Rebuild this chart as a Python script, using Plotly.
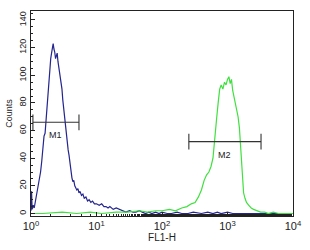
import math
import plotly.graph_objects as go

# Blue histogram (FL1-H value, count)
blue_x = [1.00, 1.02, 1.04, 1.08, 1.12, 1.17, 1.22, 1.28, 1.34, 1.40, 1.46, 1.52, 1.58, 1.64, 1.70,
          1.76, 1.82, 1.88, 1.94, 2.00, 2.06, 2.12, 2.18, 2.24, 2.30, 2.37, 2.44, 2.51, 2.58, 2.65,
          2.73, 2.81, 2.89, 2.97, 3.06, 3.15, 3.25, 3.35, 3.46, 3.57, 3.69, 3.81, 3.94, 4.07, 4.21,
          4.35, 4.50, 4.66, 4.82, 5.0, 5.2, 5.4, 5.6, 5.9, 6.2, 6.5, 6.9, 7.3, 7.7, 8.2, 8.7, 9.3,
          10, 11, 12, 13, 14, 15, 16, 18, 20, 22, 25, 28, 32, 36, 40, 45, 50, 56, 63, 70, 80, 90,
          100, 120, 140, 170, 200, 250, 300, 400, 500, 600, 700, 800, 1000, 1200, 1500, 2000,
          3000, 5000, 10000]
blue_y = [2, 16, 3, 6, 4, 9, 14, 20, 26, 30, 38, 48, 56, 58, 68,
          80, 92, 98, 106, 112, 116, 121, 123, 119, 117, 112, 114, 116, 110, 106,
          103, 100, 97, 90, 82, 76, 70, 62, 55, 50, 46, 42, 36, 30, 26,
          23, 24, 20, 19, 17, 18, 15, 16, 13, 14, 11, 12, 9, 10, 8, 9, 7,
          7, 6, 7, 5, 5, 4, 5, 3, 4, 3, 2, 1, 2, 1, 1, 2, 1, 0, 1, 0, 1, 0,
          1, 0, 0, 1, 0, 0, 1, 0, 1, 0, 1, 0, 1, 0, 0, 0,
          0, 0, 0]

# Green histogram (FL1-H value, count)
green_x = [1.0, 1.5, 3, 5, 8, 12, 20, 30, 45, 60, 80, 100, 130, 160, 200, 240, 280, 320, 360,
           400, 440, 480, 520, 560, 600, 640, 680, 720, 760, 800, 850, 900, 950, 1000, 1050,
           1100, 1150, 1200, 1260, 1320, 1380, 1450, 1520, 1600, 1680, 1760, 1850, 1950, 2100,
           2300, 2500, 2800, 3200, 3700, 4200, 5000, 6000, 8000, 10000]
green_y = [0, 0, 1, 0, 1, 0, 1, 1, 2, 1, 2, 2, 3, 2, 4, 5, 7, 8, 12,
           17, 24, 28, 30, 34, 40, 52, 68, 80, 90, 93, 90, 95, 93, 97, 99,
           94, 97, 89, 84, 80, 76, 70, 62, 42, 25, 15, 11, 8, 6,
           4, 3, 2, 1, 1, 0, 1, 0, 0, 0]

# Gates
gate_names = ["M1", "M2"]
gate_low = [1.07, 257]
gate_high = [5.4, 3250]
gate_level = [66, 52]
cap_half = 5.7

x_tickvals = [1, 10, 100, 1000, 10000]
x_ticktext = ["10<sup>0</sup>", "10<sup>1</sup>", "10<sup>2</sup>", "10<sup>3</sup>", "10<sup>4</sup>"]
y_tickvals = [0, 20, 40, 60, 80, 100, 120, 140]

fig = go.Figure()
fig.add_trace(go.Scatter(x=blue_x, y=blue_y, mode="lines",
                         line=dict(color="#25258f", width=1.2), hoverinfo="skip"))
fig.add_trace(go.Scatter(x=green_x, y=green_y, mode="lines",
                         line=dict(color="#3fe03f", width=1.2), hoverinfo="skip"))

for name, lo, hi, lv in zip(gate_names, gate_low, gate_high, gate_level):
    gx = [lo, lo, None, lo, hi, None, hi, hi]
    gy = [lv - cap_half, lv + cap_half, None, lv, lv, None, lv - cap_half, lv + cap_half]
    fig.add_trace(go.Scatter(x=gx, y=gy, mode="lines",
                             line=dict(color="#333333", width=1.1), hoverinfo="skip"))
    # annotation x on a log axis is given in log10 units
    fig.add_annotation(x=(math.log10(lo) + math.log10(hi)) / 2, y=lv, text=name,
                       showarrow=False, yanchor="top", yshift=-6,
                       font=dict(size=9, color="#222222", family="Liberation Sans, Arial"))

fig.update_layout(
    width=310, height=250,
    margin=dict(l=30, r=8, t=11, b=34),
    paper_bgcolor="white", plot_bgcolor="white",
    showlegend=False,
    font=dict(family="Liberation Sans, Arial", size=9, color="#222222"),
    xaxis=dict(type="log", range=[0, 4], tickvals=x_tickvals, ticktext=x_ticktext,
               ticks="inside", ticklen=4, tickcolor="#222222",
               minor=dict(ticks="inside", ticklen=2, tickcolor="#222222"),
               showgrid=False, zeroline=False,
               showline=True, linecolor="#222222", linewidth=1.2, mirror=True,
               tickfont=dict(size=11),
               title=dict(text="FL1-H", standoff=0, font=dict(size=10))),
    yaxis=dict(range=[-1.8, 146.5], tickvals=y_tickvals, tickangle=-90,
               ticks="inside", ticklen=4, tickcolor="#222222",
               minor=dict(ticks="inside", ticklen=2, dtick=5, tickcolor="#222222"),
               showgrid=False, zeroline=False,
               showline=True, linecolor="#222222", linewidth=1.2, mirror=True,
               title=dict(text="Counts", standoff=4, font=dict(size=9))),
)

fig.write_html("out.html")
